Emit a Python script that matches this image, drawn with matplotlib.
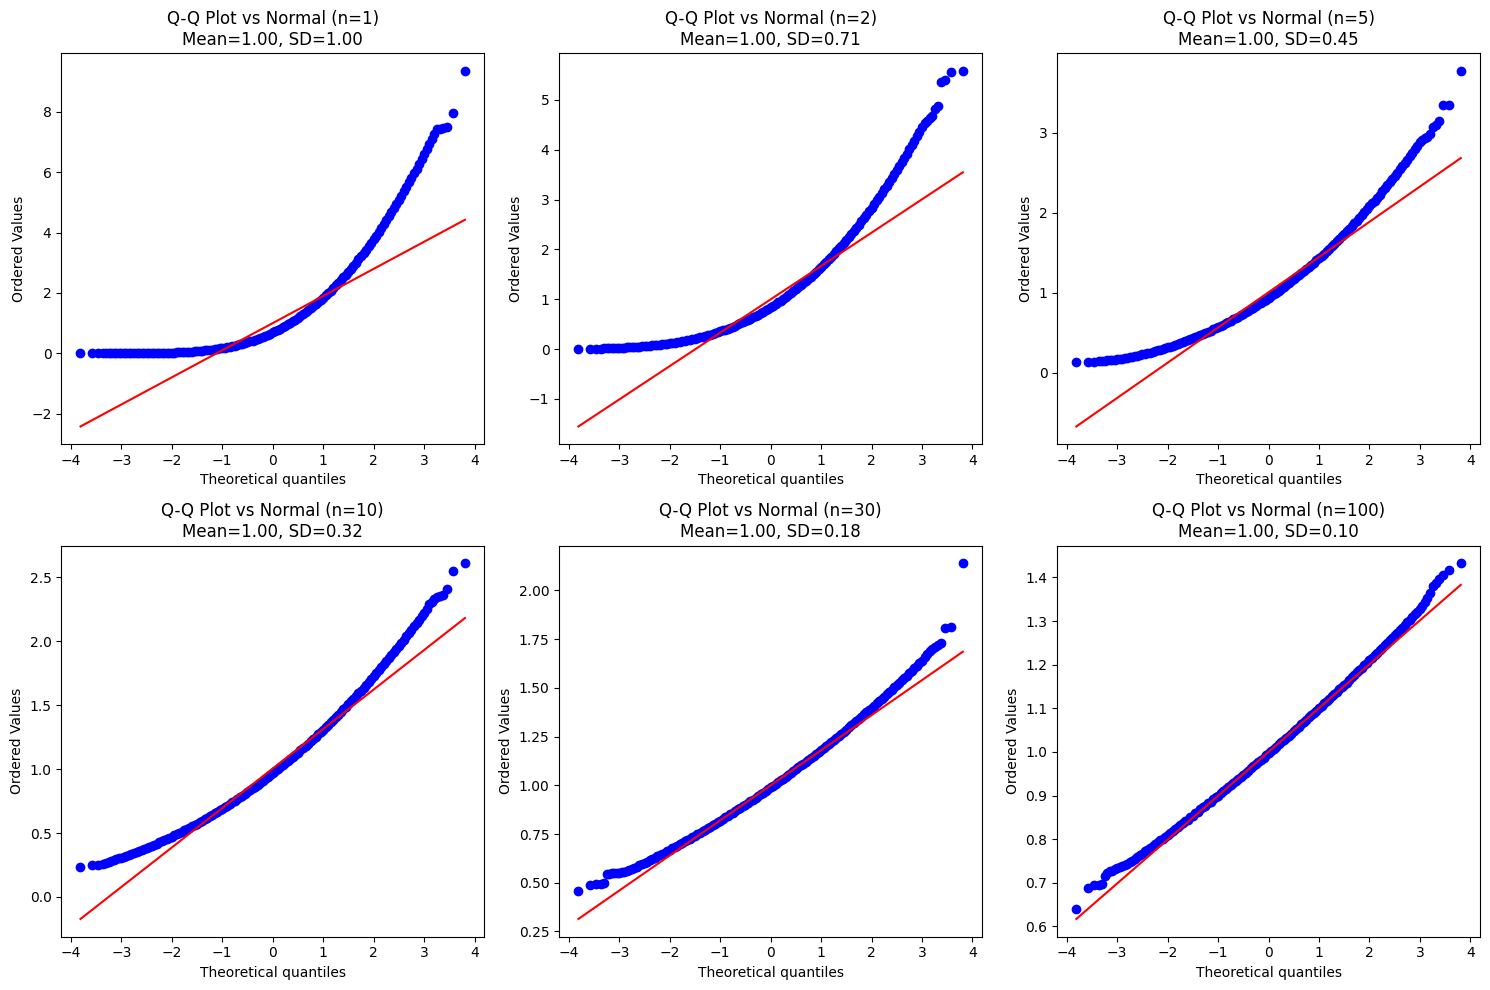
import matplotlib
matplotlib.use("Agg")
import matplotlib.pyplot as plt

SAMPLE_SIZES = [1, 2, 5, 10, 30, 100]
MEANS = [1.00, 1.00, 1.00, 1.00, 1.00, 1.00]
SDS = [1.00, 0.71, 0.45, 0.32, 0.18, 0.10]
FIT_SLOPES = [0.899, 0.669, 0.440, 0.309, 0.180, 0.1005]
FIT_INTERCEPTS = [1.0, 0.997, 1.005, 1.005, 1.0, 1.0]

QUANTILES = [-3.81, -3.58, -3.46, -3.37, -3.31, -3.25,
             -3.2, -3.15, -3.1, -3.05, -3.0, -2.95, -2.9, -2.85, -2.8, -2.75,
             -2.7, -2.65, -2.6, -2.55, -2.5, -2.45, -2.4, -2.35, -2.3, -2.25,
             -2.2, -2.15, -2.1, -2.05, -2.0, -1.95, -1.9, -1.85, -1.8, -1.75,
             -1.7, -1.65, -1.6, -1.55, -1.5, -1.45, -1.4, -1.35, -1.3, -1.25,
             -1.2, -1.15, -1.1, -1.05, -1.0, -0.95, -0.9, -0.85, -0.8, -0.75,
             -0.7, -0.65, -0.6, -0.55, -0.5, -0.45, -0.4, -0.35, -0.3, -0.25,
             -0.2, -0.15, -0.1, -0.05, 0.0, 0.05, 0.1, 0.15, 0.2, 0.25,
             0.3, 0.35, 0.4, 0.45, 0.5, 0.55, 0.6, 0.65, 0.7, 0.75,
             0.8, 0.85, 0.9, 0.95, 1.0, 1.05, 1.1, 1.15, 1.2, 1.25,
             1.3, 1.35, 1.4, 1.45, 1.5, 1.55, 1.6, 1.65, 1.7, 1.75,
             1.8, 1.85, 1.9, 1.95, 2.0, 2.05, 2.1, 2.15, 2.2, 2.25,
             2.3, 2.35, 2.4, 2.45, 2.5, 2.55, 2.6, 2.65, 2.7, 2.75,
             2.8, 2.85, 2.9, 2.95, 3.0, 3.05, 3.1, 3.15, 3.2,
             3.25, 3.31, 3.37, 3.46, 3.58, 3.81]

ORDERED_N1 = [0.0001, 0.0002, 0.0003, 0.0004, 0.0005, 0.0006,
              0.0007, 0.0008, 0.0010, 0.0011, 0.0013, 0.0016, 0.0019, 0.0022, 0.0026, 0.0030,
              0.0035, 0.0040, 0.0047, 0.0054, 0.0062, 0.0072, 0.0082, 0.0094, 0.0108, 0.0123,
              0.0140, 0.0159, 0.0180, 0.0204, 0.0230, 0.0259, 0.0291, 0.0327, 0.0366, 0.0409,
              0.0456, 0.0507, 0.0564, 0.0625, 0.0691, 0.0764, 0.0842, 0.0927, 0.1018, 0.1117,
              0.1222, 0.1336, 0.1458, 0.1588, 0.1728, 0.1876, 0.2034, 0.2202, 0.2380, 0.2570,
              0.2770, 0.2982, 0.3206, 0.3441, 0.3690, 0.3951, 0.4225, 0.4513, 0.4814, 0.5130,
              0.5460, 0.5805, 0.6165, 0.6540, 0.6931, 0.7338, 0.776, 0.8201, 0.866, 0.9131,
              0.962, 1.0129, 1.065, 1.1198, 1.176, 1.2339, 1.294, 1.3554, 1.419, 1.4845,
              1.552, 1.6212, 1.692, 1.7658, 1.841, 1.9183, 1.998, 2.0789, 2.162, 2.2476,
              2.335, 2.4247, 2.516, 2.610, 2.706, 2.804, 2.904, 3.006, 3.111, 3.217,
              3.326, 3.437, 3.550, 3.665, 3.783, 3.903, 4.025, 4.149, 4.276, 4.405,
              4.536, 4.668, 4.804, 4.942, 5.082, 5.223, 5.369, 5.516, 5.664, 5.816,
              5.968, 6.124, 6.282, 6.444, 6.608, 6.777, 6.94, 7.11, 7.28,
              7.42, 7.44, 7.46, 7.50, 7.97, 9.36]

ORDERED_N2 = [0.003, 0.005, 0.008, 0.010, 0.012, 0.015,
              0.018, 0.020, 0.022, 0.024, 0.026, 0.029, 0.031, 0.034, 0.037, 0.040,
              0.043, 0.046, 0.050, 0.054, 0.058, 0.062, 0.067, 0.072, 0.077, 0.082,
              0.088, 0.094, 0.101, 0.108, 0.115, 0.122, 0.130, 0.139, 0.148, 0.158,
              0.167, 0.177, 0.188, 0.199, 0.211, 0.223, 0.236, 0.250, 0.263, 0.277,
              0.292, 0.308, 0.324, 0.339, 0.355, 0.373, 0.392, 0.411, 0.430, 0.451,
              0.472, 0.494, 0.516, 0.539, 0.563, 0.588, 0.612, 0.638, 0.665, 0.692,
              0.720, 0.749, 0.778, 0.808, 0.839, 0.871, 0.905, 0.939, 0.973, 1.009,
              1.044, 1.082, 1.119, 1.158, 1.197, 1.238, 1.280, 1.322, 1.366, 1.410,
              1.455, 1.501, 1.549, 1.597, 1.650, 1.699, 1.750, 1.802, 1.854, 1.908,
              1.962, 2.018, 2.075, 2.133, 2.191, 2.247, 2.308, 2.371, 2.434, 2.498,
              2.564, 2.631, 2.699, 2.768, 2.840, 2.910, 2.981, 3.054, 3.128, 3.202,
              3.278, 3.355, 3.433, 3.512, 3.593, 3.674, 3.755, 3.838, 3.922, 4.008,
              4.093, 4.180, 4.267, 4.355, 4.450, 4.53, 4.58, 4.63, 4.68,
              4.81, 4.88, 5.36, 5.40, 5.56, 5.58]

ORDERED_N5 = [0.133, 0.134, 0.136, 0.144, 0.149, 0.151,
              0.153, 0.155, 0.158, 0.161, 0.165, 0.169, 0.173, 0.178, 0.184, 0.190,
              0.197, 0.205, 0.212, 0.220, 0.228, 0.236, 0.244, 0.252, 0.261, 0.270,
              0.278, 0.287, 0.297, 0.307, 0.316, 0.327, 0.337, 0.348, 0.359, 0.370,
              0.382, 0.393, 0.405, 0.417, 0.430, 0.443, 0.456, 0.469, 0.483, 0.497,
              0.511, 0.525, 0.540, 0.555, 0.570, 0.585, 0.601, 0.617, 0.633, 0.650,
              0.667, 0.684, 0.701, 0.719, 0.737, 0.755, 0.774, 0.793, 0.812, 0.832,
              0.852, 0.872, 0.893, 0.913, 0.934, 0.956, 0.978, 1.000, 1.023, 1.046,
              1.069, 1.093, 1.116, 1.141, 1.165, 1.190, 1.216, 1.241, 1.267, 1.294,
              1.320, 1.347, 1.375, 1.403, 1.431, 1.459, 1.488, 1.518, 1.547, 1.578,
              1.608, 1.639, 1.670, 1.702, 1.734, 1.766, 1.799, 1.833, 1.866, 1.900,
              1.935, 1.970, 2.005, 2.041, 2.077, 2.114, 2.150, 2.188, 2.226, 2.264,
              2.302, 2.341, 2.380, 2.420, 2.458, 2.499, 2.539, 2.580, 2.621, 2.663,
              2.705, 2.748, 2.790, 2.834, 2.878, 2.91, 2.93, 2.95, 2.98,
              3.07, 3.10, 3.15, 3.34, 3.34, 3.77]

ORDERED_N10 = [0.237, 0.248, 0.250, 0.257, 0.265, 0.272,
               0.281, 0.287, 0.294, 0.301, 0.308, 0.315, 0.322, 0.329, 0.337, 0.345,
               0.352, 0.360, 0.368, 0.376, 0.384, 0.392, 0.401, 0.409, 0.418, 0.427,
               0.435, 0.444, 0.453, 0.462, 0.472, 0.481, 0.491, 0.501, 0.511, 0.521,
               0.531, 0.542, 0.552, 0.563, 0.573, 0.584, 0.595, 0.607, 0.618, 0.630,
               0.641, 0.653, 0.665, 0.677, 0.690, 0.702, 0.715, 0.727, 0.740, 0.753,
               0.766, 0.780, 0.793, 0.807, 0.821, 0.834, 0.849, 0.863, 0.877, 0.892,
               0.906, 0.921, 0.936, 0.952, 0.967, 0.983, 0.998, 1.014, 1.030, 1.046,
               1.063, 1.079, 1.096, 1.113, 1.130, 1.147, 1.165, 1.182, 1.200, 1.218,
               1.236, 1.254, 1.273, 1.292, 1.310, 1.329, 1.349, 1.368, 1.388, 1.407,
               1.427, 1.447, 1.468, 1.488, 1.509, 1.530, 1.551, 1.572, 1.594, 1.615,
               1.637, 1.659, 1.682, 1.704, 1.727, 1.750, 1.773, 1.796, 1.819, 1.843,
               1.867, 1.891, 1.915, 1.940, 1.964, 1.989, 2.014, 2.040, 2.065, 2.091,
               2.117, 2.143, 2.170, 2.196, 2.223, 2.25, 2.29, 2.31, 2.33,
               2.345, 2.355, 2.365, 2.41, 2.55, 2.61]

ORDERED_N30 = [0.460, 0.489, 0.493, 0.496, 0.500, 0.545,
               0.547, 0.548, 0.549, 0.550, 0.552, 0.554, 0.557, 0.560, 0.564, 0.570,
               0.577, 0.583, 0.589, 0.595, 0.602, 0.608, 0.615, 0.621, 0.628, 0.635,
               0.641, 0.648, 0.655, 0.662, 0.669, 0.676, 0.683, 0.690, 0.697, 0.704,
               0.712, 0.719, 0.726, 0.734, 0.741, 0.749, 0.756, 0.764, 0.772, 0.779,
               0.787, 0.795, 0.803, 0.811, 0.819, 0.827, 0.835, 0.843, 0.851, 0.859,
               0.867, 0.876, 0.884, 0.893, 0.901, 0.910, 0.918, 0.927, 0.936, 0.944,
               0.953, 0.962, 0.971, 0.980, 0.989, 0.998, 1.007, 1.016, 1.026, 1.035,
               1.044, 1.054, 1.063, 1.073, 1.082, 1.092, 1.102, 1.111, 1.121, 1.131,
               1.141, 1.151, 1.161, 1.171, 1.181, 1.192, 1.202, 1.212, 1.223, 1.233,
               1.244, 1.254, 1.265, 1.276, 1.286, 1.297, 1.308, 1.319, 1.330, 1.341,
               1.352, 1.364, 1.375, 1.386, 1.397, 1.409, 1.420, 1.432, 1.444, 1.455,
               1.467, 1.479, 1.491, 1.503, 1.515, 1.527, 1.539, 1.551, 1.563, 1.576,
               1.588, 1.601, 1.613, 1.626, 1.638, 1.66, 1.675, 1.69, 1.70,
               1.71, 1.718, 1.728, 1.806, 1.815, 2.139]

ORDERED_N100 = [0.640, 0.689, 0.694, 0.696, 0.697, 0.716,
                0.723, 0.726, 0.728, 0.731, 0.733, 0.736, 0.738, 0.741, 0.744, 0.747,
                0.751, 0.755, 0.759, 0.763, 0.767, 0.772, 0.776, 0.780, 0.784, 0.789,
                0.793, 0.797, 0.801, 0.806, 0.810, 0.814, 0.819, 0.823, 0.828, 0.832,
                0.836, 0.841, 0.845, 0.850, 0.854, 0.859, 0.863, 0.868, 0.873, 0.877,
                0.882, 0.886, 0.891, 0.896, 0.900, 0.905, 0.910, 0.914, 0.919, 0.924,
                0.928, 0.933, 0.938, 0.943, 0.948, 0.952, 0.957, 0.962, 0.967, 0.972,
                0.977, 0.982, 0.987, 0.992, 0.997, 1.002, 1.007, 1.012, 1.017, 1.022,
                1.027, 1.032, 1.037, 1.042, 1.047, 1.053, 1.058, 1.063, 1.068, 1.073,
                1.079, 1.084, 1.089, 1.094, 1.100, 1.105, 1.111, 1.116, 1.121, 1.127,
                1.132, 1.138, 1.143, 1.148, 1.154, 1.159, 1.165, 1.171, 1.176, 1.182,
                1.187, 1.193, 1.199, 1.204, 1.210, 1.216, 1.221, 1.227, 1.233, 1.238,
                1.244, 1.250, 1.256, 1.262, 1.268, 1.273, 1.279, 1.285, 1.291, 1.297,
                1.303, 1.309, 1.315, 1.321, 1.327, 1.335, 1.343, 1.352, 1.365,
                1.380, 1.388, 1.396, 1.405, 1.418, 1.432]

ORDERED = [ORDERED_N1, ORDERED_N2, ORDERED_N5, ORDERED_N10, ORDERED_N30, ORDERED_N100]

fig, axes = plt.subplots(2, 3, figsize=(15, 10))
for ax, n, mean, sd, ys, slope, icpt in zip(axes.flat, SAMPLE_SIZES, MEANS, SDS,
                                          ORDERED, FIT_SLOPES, FIT_INTERCEPTS):
    ax.plot(QUANTILES, ys, 'bo')
    xends = [QUANTILES[0], QUANTILES[-1]]
    ax.plot(xends, [slope * x + icpt for x in xends], 'r-')
    ax.set_title(f"Q-Q Plot vs Normal (n={n})\nMean={mean:.2f}, SD={sd:.2f}")
    ax.set_xlabel("Theoretical quantiles")
    ax.set_ylabel("Ordered Values")

plt.tight_layout()
fig.savefig("out.png", dpi=100, bbox_inches="tight")
